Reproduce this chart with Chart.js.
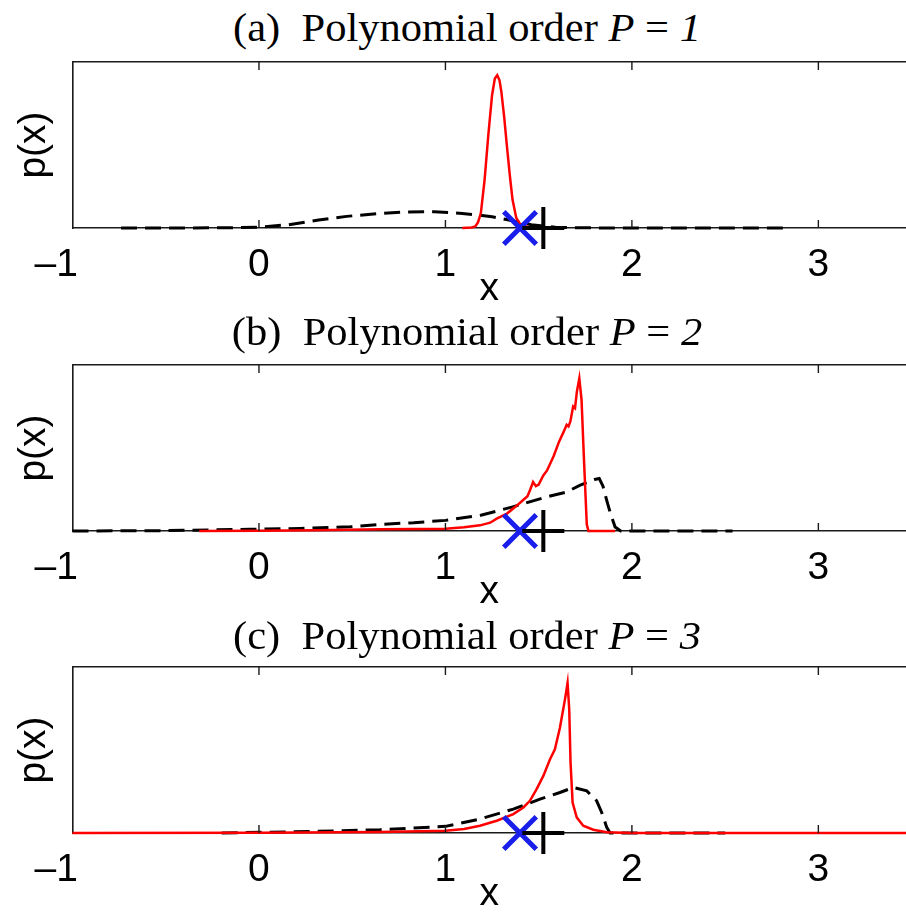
<!DOCTYPE html>
<html>
<head>
<meta charset="utf-8">
<script src="https://cdn.jsdelivr.net/npm/chart.js@4/dist/chart.umd.min.js"></script>
<style>
  html, body { margin: 0; padding: 0; background: #fff; width: 906px; height: 914px; overflow: hidden; }
  .panel { position: absolute; left: 0; width: 906px; height: 256px; }
  .title {
    position: absolute; left: 0; width: 934px; text-align: center;
    font-family: "Liberation Serif", "Times New Roman", serif;
    font-size: 39px; line-height: 39px; white-space: pre; color: #000;
    transform: scaleX(1.09); transform-origin: 467px 0;
  }
</style>
</head>
<body>
<div class="title" style="top:8px">(a)  Polynomial order <i>P</i> = <i>1</i></div>
<div class="panel" style="top:60px"><canvas id="pa"></canvas></div>
<div class="title" style="top:312px">(b)  Polynomial order <i>P</i> = <i>2</i></div>
<div class="panel" style="top:363px"><canvas id="pb"></canvas></div>
<div class="title" style="top:616px">(c)  Polynomial order <i>P</i> = <i>3</i></div>
<div class="panel" style="top:665px"><canvas id="pc"></canvas></div>

<script>
// x axis
const xMin = -1;
const xMax = 3.47;
const xTickValues = [-1, 0, 1, 2, 3];
const xTickLabels = ['\u20131   ', '0', '1', '2', '3'];

// reference points (true value and estimate) shared by all three panels
const trueX = [1.525];
const estX = [1.40];
const markerY = [0];

// (a) P = 1
const aRedX  = [1.09, 1.14, 1.16, 1.175, 1.19, 1.21, 1.23, 1.25, 1.265, 1.278, 1.29, 1.30, 1.315, 1.33, 1.345, 1.36, 1.38, 1.40, 1.42, 1.45];
const aRedY  = [0, 0.003, 0.01, 0.035, 0.09, 0.29, 0.56, 0.80, 0.90, 0.92, 0.89, 0.82, 0.67, 0.49, 0.32, 0.17, 0.06, 0.025, 0.012, 0.004];
const aDashX = [-0.74, -0.4, -0.15, 0, 0.16, 0.32, 0.47, 0.63, 0.78, 0.94, 1.09, 1.25, 1.34, 1.46, 1.59, 1.75, 2.0, 2.4, 2.81];
const aDashY = [0, 0, 0.002, 0.005, 0.02, 0.048, 0.07, 0.086, 0.096, 0.098, 0.088, 0.068, 0.048, 0.02, 0.004, 0.001, 0, 0, 0];

// (b) P = 2
const bRedX  = [-0.32, 0, 0.3, 0.65, 1.0, 1.1, 1.185, 1.24, 1.275, 1.33, 1.38, 1.42, 1.44, 1.455, 1.47, 1.485, 1.50, 1.525, 1.545, 1.58, 1.61, 1.635, 1.65, 1.66, 1.67, 1.685, 1.695, 1.705, 1.718, 1.73, 1.743, 1.758, 1.767, 1.91];
const bRedY  = [0, 0.002, 0.005, 0.01, 0.014, 0.022, 0.034, 0.05, 0.074, 0.105, 0.15, 0.19, 0.21, 0.25, 0.295, 0.27, 0.28, 0.335, 0.365, 0.45, 0.54, 0.60, 0.64, 0.63, 0.66, 0.75, 0.74, 0.84, 0.92, 0.79, 0.43, 0.04, 0, 0];
const bDashX = [-1, -0.5, -0.05, 0.22, 0.49, 0.65, 0.83, 1.0, 1.19, 1.36, 1.54, 1.65, 1.72, 1.80, 1.825, 1.845, 1.865, 1.885, 1.91, 1.94, 2.2, 2.54];
const bDashY = [0, 0.002, 0.01, 0.015, 0.025, 0.04, 0.05, 0.064, 0.095, 0.145, 0.205, 0.235, 0.275, 0.31, 0.316, 0.27, 0.185, 0.105, 0.024, 0, 0, 0];

// (c) P = 3
const cRedX  = [-1, 0, 0.65, 1.0, 1.1, 1.185, 1.275, 1.364, 1.418, 1.453, 1.489, 1.525, 1.561, 1.587, 1.614, 1.641, 1.655, 1.664, 1.671, 1.682, 1.704, 1.739, 1.793, 1.865, 2.0, 3.5];
const cRedY  = [0, 0.002, 0.006, 0.014, 0.024, 0.044, 0.074, 0.114, 0.154, 0.194, 0.264, 0.344, 0.444, 0.504, 0.634, 0.804, 0.904, 0.744, 0.424, 0.184, 0.094, 0.044, 0.02, 0.004, 0, 0];
const cDashX = [-0.2, 0.31, 0.65, 1.0, 1.185, 1.364, 1.507, 1.614, 1.686, 1.758, 1.811, 1.838, 1.865, 1.883, 2.1, 2.5];
const cDashY = [0, 0.01, 0.02, 0.04, 0.084, 0.144, 0.204, 0.244, 0.274, 0.254, 0.194, 0.124, 0.034, 0, 0, 0];

const axisColor = '#1a1a1a';
const sansFont = { family: '"Liberation Sans", Arial, Helvetica, sans-serif', size: 39 };

const toPoints = (xs, ys) => xs.map((x, i) => ({ x: x, y: ys[i] }));

// fixed-size axes: no extra label padding around the plot box
const noPad = s => { s.paddingLeft = 0; s.paddingRight = 0; s.paddingTop = 0; s.paddingBottom = 0; };

// MATLAB-style tick marks pointing into the axes box, top and bottom
const inwardTicks = {
  id: 'inwardTicks',
  afterDraw(chart) {
    const { ctx, chartArea } = chart;
    const sx = chart.scales.x;
    ctx.save();
    ctx.strokeStyle = axisColor;
    ctx.lineWidth = 1.4;
    xTickValues.forEach(v => {
      if (v === xMin) return;
      const px = sx.getPixelForValue(v);
      ctx.beginPath();
      ctx.moveTo(px, chartArea.bottom);
      ctx.lineTo(px, chartArea.bottom - 8);
      ctx.moveTo(px, chartArea.top);
      ctx.lineTo(px, chartArea.top + 8);
      ctx.stroke();
    });
    ctx.restore();
  }
};

function makePanel(id, redX, redY, dashX, dashY) {
  return new Chart(document.getElementById(id), {
    type: 'scatter',
    data: {
      datasets: [
        {
          label: 'true',
          data: toPoints(trueX, markerY),
          pointStyle: 'cross',
          pointRadius: 21,
          pointHoverRadius: 21,
          pointBorderWidth: 4,
          borderWidth: 4,
          pointBorderColor: '#000',
          borderColor: '#000',
          clip: false
        },
        {
          label: 'estimate',
          data: toPoints(estX, markerY),
          pointStyle: 'crossRot',
          pointRadius: 23,
          pointHoverRadius: 23,
          pointBorderWidth: 5,
          borderWidth: 5,
          pointBorderColor: 'rgb(25,30,235)',
          borderColor: 'rgb(25,30,235)',
          clip: false
        },
        {
          label: 'posterior',
          data: toPoints(redX, redY),
          showLine: true,
          borderColor: '#ff0000',
          borderWidth: 2.5,
          pointRadius: 0,
          pointHoverRadius: 0,
          tension: 0,
          clip: 4
        },
        {
          label: 'prior',
          data: toPoints(dashX, dashY),
          showLine: true,
          borderColor: '#000',
          borderWidth: 3,
          borderDash: [16, 8],
          pointRadius: 0,
          pointHoverRadius: 0,
          tension: 0,
          clip: 4
        }
      ]
    },
    options: {
      responsive: true,
      maintainAspectRatio: false,
      animation: false,
      events: [],
      layout: { autoPadding: false, padding: { top: 2, bottom: 3, left: 0, right: 0 } },
      plugins: { legend: { display: false }, tooltip: { enabled: false } },
      scales: {
        x: {
          type: 'linear',
          position: 'bottom',
          min: xMin,
          max: xMax,
          afterBuildTicks: s => { s.ticks = xTickValues.map(v => ({ value: v })); },
          afterFit: s => { s.height = 85; noPad(s); },
          grid: { display: false, drawTicks: false },
          border: { display: true, color: axisColor, width: 1.6 },
          ticks: {
            font: sansFont, color: '#000', padding: 14,
            maxRotation: 0, autoSkip: false,
            callback: (v, i) => xTickLabels[i]
          },
          title: { display: true, text: 'x', font: sansFont, color: '#000', padding: 0 }
        },
        xTop: {
          type: 'linear',
          position: 'top',
          min: xMin,
          max: xMax,
          afterFit: s => { s.height = 0; noPad(s); },
          grid: { display: false, drawTicks: false },
          border: { display: true, color: axisColor, width: 1.6 },
          ticks: { display: false }
        },
        y: {
          type: 'linear',
          min: 0,
          max: 1,
          afterFit: s => { s.width = 72.5; noPad(s); },
          grid: { display: false, drawTicks: false },
          border: { display: true, color: axisColor, width: 1.6 },
          ticks: { display: false },
          title: { display: true, text: 'p(x)', font: sansFont, color: '#000', padding: { top: 11, bottom: 0 } }
        }
      }
    },
    plugins: [inwardTicks]
  });
}

makePanel('pa', aRedX, aRedY, aDashX, aDashY);
makePanel('pb', bRedX, bRedY, bDashX, bDashY);
makePanel('pc', cRedX, cRedY, cDashX, cDashY);
</script>
</body>
</html>
